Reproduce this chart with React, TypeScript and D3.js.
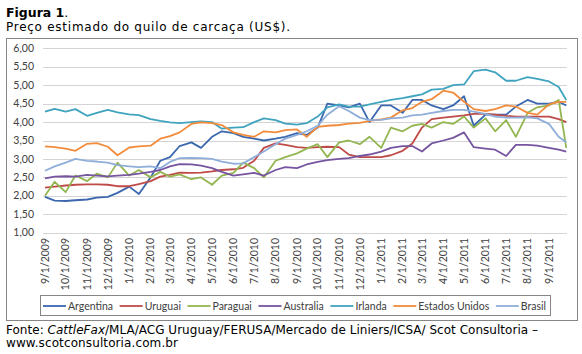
import { scaleLinear, scaleTime, line as d3_line, timeParse, sum } from "d3"

const dates = [
  "2009-09-01", "2009-09-15", "2009-10-01", "2009-10-15", "2009-11-01", "2009-11-15", "2009-12-01", "2009-12-15",
  "2010-01-01", "2010-01-15", "2010-02-01", "2010-02-15", "2010-03-01", "2010-03-15", "2010-04-01", "2010-04-15",
  "2010-05-01", "2010-05-15", "2010-06-01", "2010-06-15", "2010-07-01", "2010-07-15", "2010-08-01", "2010-08-15",
  "2010-09-01", "2010-09-15", "2010-10-01", "2010-10-15", "2010-11-01", "2010-11-15", "2010-12-01", "2010-12-15",
  "2011-01-01", "2011-01-15", "2011-02-01", "2011-02-15", "2011-03-01", "2011-03-15", "2011-04-01", "2011-04-15",
  "2011-05-01", "2011-05-15", "2011-06-01", "2011-06-15", "2011-07-01", "2011-07-15", "2011-08-01", "2011-08-15",
  "2011-09-01", "2011-09-15", "2011-09-26",
]

const argentina = [
  1.97, 1.87, 1.86, 1.88, 1.9, 1.95, 1.97, 2.08, 2.25, 2.05,
  2.5, 2.95, 3.05, 3.35, 3.45, 3.3, 3.6, 3.75, 3.7, 3.6,
  3.55, 3.5, 3.55, 3.6, 3.7, 3.65, 3.85, 4.5, 4.45, 4.4,
  4.5, 4.0, 4.45, 4.45, 4.25, 4.6, 4.6, 4.45, 4.35, 4.45,
  4.7, 3.9, 4.2, 4.2, 4.2, 4.42, 4.6, 4.5, 4.5, 4.55,
  4.45,
]
const uruguai = [
  2.22, 2.25, 2.28, 2.3, 2.31, 2.31, 2.3, 2.26, 2.26, 2.32,
  2.4, 2.52, 2.57, 2.63, 2.62, 2.63, 2.66, 2.7, 2.72, 2.76,
  2.95, 3.3, 3.42, 3.38, 3.32, 3.3, 3.32, 3.33, 3.32, 3.12,
  3.05, 3.05, 3.05, 3.1, 3.22, 3.42, 3.85, 4.08, 4.12, 4.15,
  4.18, 4.22, 4.22, 4.2, 4.17, 4.15, 4.15, 4.15, 4.15, 4.08,
  4.0,
]
const paraguai = [
  2.0, 2.38, 2.1, 2.55, 2.4, 2.6, 2.5, 2.9, 2.55, 2.7,
  2.5, 2.65, 2.52, 2.58, 2.45, 2.5, 2.3, 2.55, 2.62, 2.9,
  2.75, 2.5, 2.95, 3.05, 3.15, 3.28, 3.4, 3.05, 3.45, 3.5,
  3.4, 3.6, 3.3, 3.85, 3.75, 3.9, 3.95, 3.85, 4.0, 3.95,
  4.15, 3.85, 4.1, 3.75, 4.05, 3.6, 4.25, 4.4, 4.45, 4.6,
  3.3,
]
const australia = [
  2.47, 2.52, 2.53, 2.52, 2.57, 2.55, 2.53, 2.55, 2.57, 2.6,
  2.65, 2.7, 2.8, 2.86, 2.85, 2.82, 2.75, 2.65, 2.55, 2.58,
  2.62, 2.55, 2.7, 2.78, 2.75, 2.85, 2.92, 2.97, 3.0, 3.02,
  3.08, 3.12, 3.2, 3.3, 3.35, 3.35, 3.2, 3.42, 3.5, 3.57,
  3.72, 3.32, 3.28, 3.25, 3.08, 3.38, 3.38, 3.36, 3.3, 3.25,
  3.2,
]
const irlanda = [
  4.28, 4.36, 4.28, 4.35, 4.17, 4.25, 4.33, 4.26, 4.21, 4.19,
  4.08, 4.03, 3.99, 3.97, 4.0, 4.02, 4.0, 3.82, 3.85, 3.86,
  4.0, 4.1, 4.05, 3.96, 3.93, 3.97, 4.15, 4.4, 4.48, 4.42,
  4.42, 4.48, 4.55, 4.6, 4.65, 4.7, 4.75, 4.88, 4.9, 5.0,
  5.02, 5.38, 5.42, 5.35, 5.12, 5.12, 5.22, 5.17, 5.1, 4.95,
  4.6,
]
const estadosUnidos = [
  3.34, 3.32, 3.28, 3.22, 3.41, 3.43, 3.33, 3.1, 3.31, 3.34,
  3.36, 3.55, 3.62, 3.72, 3.95, 3.99, 3.97, 3.92, 3.72, 3.65,
  3.6, 3.75, 3.72, 3.78, 3.8, 3.6, 3.87, 3.9, 3.92, 3.96,
  3.98, 4.03, 4.07, 4.12, 4.32, 4.38, 4.55, 4.62, 4.85, 4.8,
  4.55, 4.35, 4.3, 4.35, 4.45, 4.42, 4.25, 4.2, 4.48, 4.55,
  4.55,
]
const brasil = [
  2.68, 2.8, 2.9, 3.0, 2.95, 2.93, 2.9, 2.83, 2.8, 2.78,
  2.8, 2.75, 2.92, 3.02, 3.03, 3.02, 3.0, 2.93, 2.87, 2.88,
  3.05, 3.2, 3.4, 3.55, 3.65, 3.75, 3.9, 4.2, 4.43, 4.3,
  4.12, 4.05, 4.06, 4.1, 4.12, 4.18, 4.2, 4.25, 4.3, 4.33,
  4.33, 4.28, 4.22, 4.15, 4.12, 4.12, 4.13, 4.1, 3.95, 3.6,
  3.45,
]

const monthLabels = [
  "9/1/2009", "10/1/2009", "11/1/2009", "12/1/2009", "1/1/2010", "2/1/2010", "3/1/2010",
  "4/1/2010", "5/1/2010", "6/1/2010", "7/1/2010", "8/1/2010", "9/1/2010", "10/1/2010",
  "11/1/2010", "12/1/2010", "1/1/2011", "2/1/2011", "3/1/2011", "4/1/2011", "5/1/2011",
  "6/1/2011", "7/1/2011", "8/1/2011", "9/1/2011",
]
const yTicks = [1, 1.5, 2, 2.5, 3, 3.5, 4, 4.5, 5, 5.5, 6]

const series = [
  { name: "Argentina", values: argentina, color: "#3A67AE" },
  { name: "Uruguai", values: uruguai, color: "#BE4B48" },
  { name: "Paraguai", values: paraguai, color: "#93B650" },
  { name: "Australia", values: australia, color: "#7654A0" },
  { name: "Irlanda", values: irlanda, color: "#40A4BF" },
  { name: "Estados Unidos", values: estadosUnidos, color: "#F28C3C" },
  { name: "Brasil", values: brasil, color: "#8FAEDA" },
]

const parseIso = timeParse("%Y-%m-%d")
const parseMdy = timeParse("%m/%d/%Y")

const axisFont = "Lato, 'Open Sans', sans-serif"
const textFont = "'DejaVu Sans', Verdana, sans-serif"

function measure(text: string, font: string) {
  let ctx = document.createElement("canvas").getContext("2d")
  if (!ctx) return text.length * 5
  ctx.font = font
  return ctx.measureText(text).width
}

export default function App() {
  let width = 582
  let height = 354

  let x = scaleTime()
    .domain([parseMdy("9/1/2009")!, parseMdy("9/1/2011")!])
    .range([45, 549])
  let y = scaleLinear().domain([1, 6]).range([232.7, 48.3])

  let pts = dates.map((d) => parseIso(d)!)
  let line = d3_line<number>()
    .x((_, i) => x(pts[i]))
    .y((v) => y(v))

  // legend: line sample + label, spread so the row fills the box
  let legendFont = `10.5px ${axisFont}`
  let sampleW = 23
  let labelGap = 2
  let widths = series.map((s) => measure(s.name, legendFont))
  let legendStart = 43
  let legendEnd = 546
  let gap = (legendEnd - legendStart - sum(widths) - series.length * (sampleW + labelGap)) / (series.length - 1)
  let lx = legendStart
  let legend = series.map((s, i) => {
    let item = { ...s, x: lx }
    lx += sampleW + labelGap + widths[i] + gap
    return item
  })

  return (
    <svg
      width={width}
      height={height}
      style={{ position: "absolute", left: 0, top: 0, background: "#fff" }}
    >
      {/* heading */}
      <text x={6} y={16.5} fontFamily={textFont} fontSize={12.5} fontWeight="bold" fill="#000">
        Figura 1<tspan fontWeight="normal">.</tspan>
      </text>
      <text x={6} y={30.5} fontFamily={textFont} fontSize={12} fill="#000" textLength={284} lengthAdjust="spacing">
        Preço estimado do quilo de carcaça (US$).
      </text>

      {/* chart frame */}
      <rect x={6.5} y={38.5} width={571} height={282} fill="#fff" stroke="#868686" strokeWidth={1} />

      {/* grid + y labels */}
      {yTicks.map((t) => (
        <g key={t}>
          <line
            x1={43}
            x2={567}
            y1={Math.round(y(t)) + 0.5}
            y2={Math.round(y(t)) + 0.5}
            stroke="#D4D4D4"
            strokeWidth={1}
          />
          <text
            x={34}
            y={y(t)}
            dy="0.35em"
            textAnchor="end"
            fontFamily={axisFont}
            fontSize={10.5}
            fill="#404040"
          >
            {t.toFixed(2).replace(".", ",")}
          </text>
        </g>
      ))}

      {/* x labels, vertical */}
      {monthLabels.map((m) => {
        let px = x(parseMdy(m)!)
        return (
          <text
            key={m}
            transform={`translate(${px},238) rotate(-90)`}
            dy="0.35em"
            textAnchor="end"
            fontFamily={axisFont}
            fontSize={10.5}
            fill="#404040"
          >
            {m}
          </text>
        )
      })}

      {/* series */}
      {series.map((s) => (
        <path
          key={s.name}
          d={line(s.values) ?? ""}
          fill="none"
          stroke={s.color}
          strokeWidth={1.8}
          strokeLinejoin="round"
        />
      ))}

      {/* legend */}
      <rect x={40.5} y={295.5} width={510} height={20} fill="#fff" stroke="#868686" strokeWidth={1} />
      {legend.map((s) => (
        <g key={s.name}>
          <line x1={s.x} x2={s.x + sampleW} y1={306} y2={306} stroke={s.color} strokeWidth={1.8} />
          <text x={s.x + sampleW + labelGap} y={306} dy="0.35em" fontFamily={axisFont} fontSize={10.5} fill="#404040">
            {s.name}
          </text>
        </g>
      ))}

      {/* source */}
      <text x={6} y={333.5} fontFamily={textFont} fontSize={12} fill="#000" textLength={532} lengthAdjust="spacing">
        Fonte: <tspan fontStyle="italic">CattleFax</tspan>/MLA/ACG Uruguay/FERUSA/Mercado de Liniers/ICSA/ Scot Consultoria –
      </text>
      <text x={6} y={346.5} fontFamily={textFont} fontSize={12} fill="#000" textLength={172} lengthAdjust="spacing">
        www.scotconsultoria.com.br
      </text>
    </svg>
  )
}
